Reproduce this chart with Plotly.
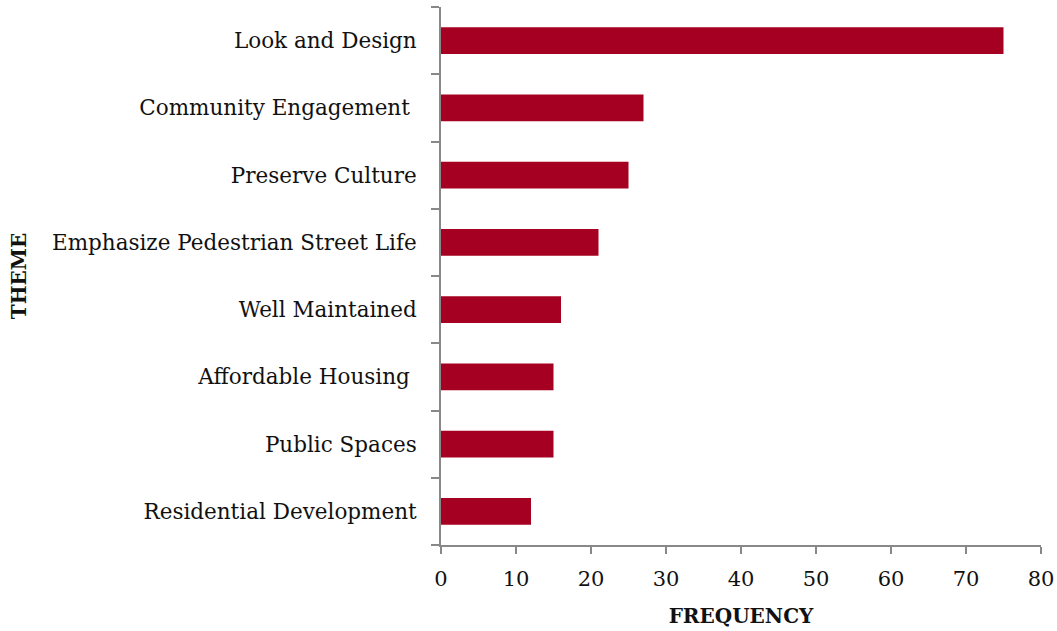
import plotly.graph_objects as go

themes = ["Look and Design", "Community Engagement ", "Preserve Culture",
          "Emphasize Pedestrian Street Life", "Well Maintained",
          "Affordable Housing ", "Public Spaces", "Residential Development"]
frequency = [75, 27, 25, 21, 16, 15, 15, 12]
x_ticks = [0, 10, 20, 30, 40, 50, 60, 70, 80]

font_family = "DejaVu Serif"

fig = go.Figure(go.Bar(
    x=frequency, y=themes, orientation="h",
    marker=dict(color="#a50021", line=dict(width=0)),
    width=0.4,
))

fig.update_layout(
    width=1057, height=631,
    margin=dict(l=441, r=16, t=7, b=86),
    plot_bgcolor="white", paper_bgcolor="white",
    showlegend=False,
    font=dict(family=font_family, color="#111", size=21),
    bargap=0.6,
)
fig.update_xaxes(
    range=[0, 80], tickvals=x_ticks, showgrid=False, zeroline=False,
    automargin=False,
    showline=True, linecolor="#888", linewidth=2,
    ticks="outside", ticklen=7, tickcolor="#888", tickwidth=2,
    tickfont=dict(size=21, family=font_family),
    ticklabelstandoff=7,
    title=dict(text="<b>FREQUENCY</b>", font=dict(size=20, family=font_family), standoff=19),
)
fig.update_yaxes(
    categoryorder="array", categoryarray=themes[::-1],
    range=[-0.5, 7.5],
    showgrid=False, zeroline=False,
    automargin=False,
    showline=True, linecolor="#888", linewidth=2,
    ticks="outside", tickson="boundaries", ticklen=8, tickcolor="#888", tickwidth=2,
    tickfont=dict(size=21.5, family=font_family),
    ticklabelstandoff=18,
    title=dict(text="<b>THEME</b>", font=dict(size=20, family=font_family), standoff=20),
)
fig.write_html("out.html", config={"displayModeBar": False},
               post_script="document.body.style.margin='0px';")
